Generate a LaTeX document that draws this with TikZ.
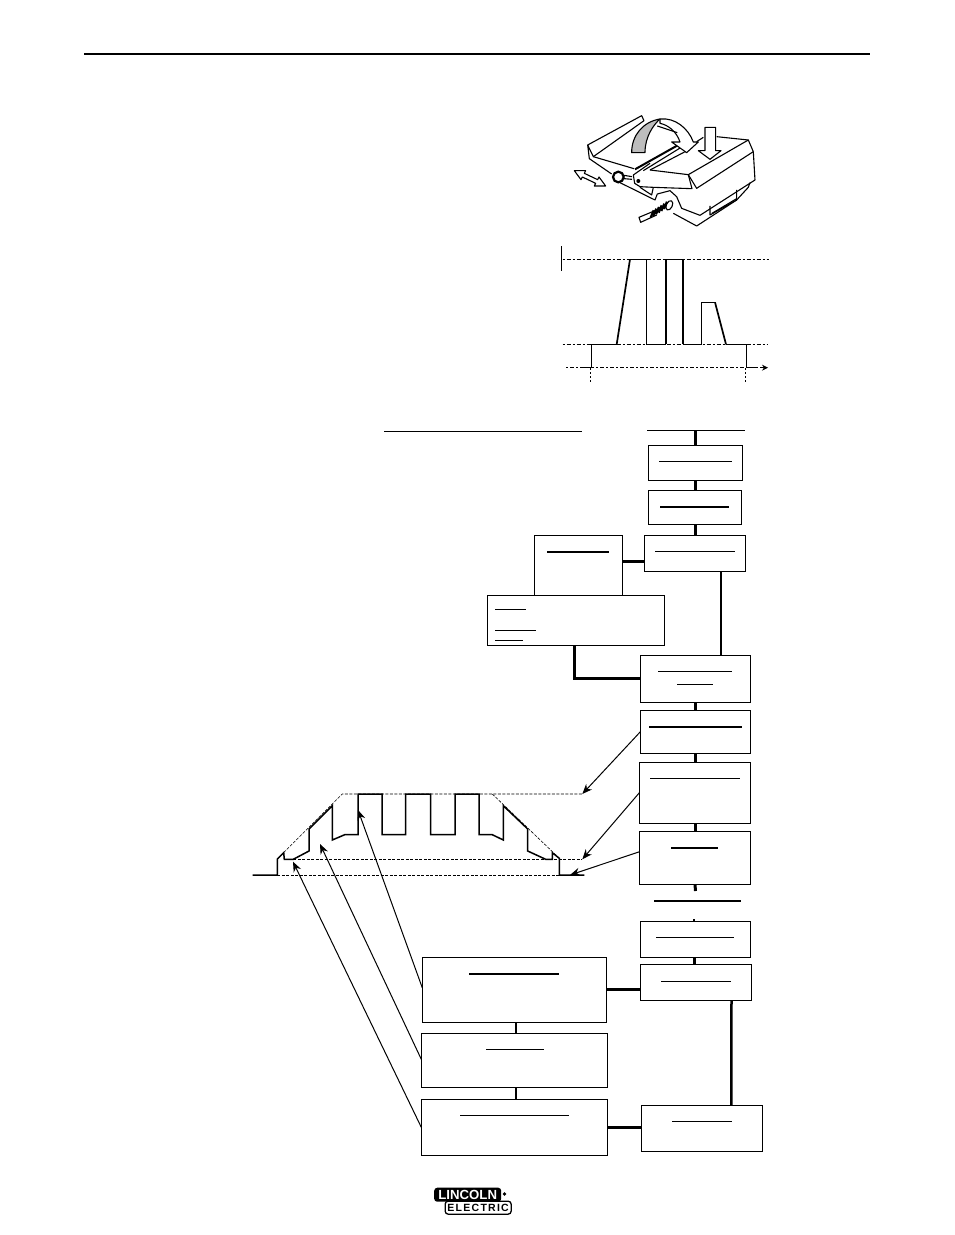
\documentclass[tikz,border=0pt]{standalone}
\usepackage{fontspec}
\setmainfont{Liberation Sans}
\usepackage{xcolor}
\usetikzlibrary{arrows.meta}
\definecolor{FlapGrey}{HTML}{BDBDBD}
\tikzset{
  flowbox/.style={draw, line width=1pt, outer sep=0pt, inner sep=0pt, anchor=north west},
  linkthin/.style={line width=2pt},
  linkthick/.style={line width=3pt},
  titlethin/.style={line width=0.9pt},
  titlethick/.style={line width=1.9pt},
  callout/.style={line width=1pt, -{Stealth[length=10pt, width=8pt]}},
  levelline/.style={line width=0.6pt, dash pattern=on 3pt off 1.5pt},
  timingline/.style={line width=0.8pt, dash pattern=on 2pt off 2pt on 4pt off 2pt},
  pulseline/.style={line width=1.5pt, line join=miter},
  sketch/.style={line width=1.1pt, line join=round}
}

\begin{document}
\begin{tikzpicture}[x=1pt, y=-1pt]
  \useasboundingbox (0,0) rectangle (954,1235);
  \draw[line width=2.4pt] (84,54) -- (870,54);

  % welder sketch, in 3x crop units
  \begin{scope}[shift={(540,100)}, x=0.3333pt, y=-0.3333pt]
    \draw[sketch] (143,135) -- (305,47) -- (312,62) -- (160,170) -- (143,135) -- (148,176) -- (215,222);
    \draw[sketch] (160,170) -- (282,206);
    \draw[sketch] (240,248) -- (345,300) -- (352,282) -- (390,272) -- (410,290) -- (425,325) -- (480,346) -- (645,240) -- (640,155);
    \draw[sketch] (400,340) -- (470,378) -- (590,300) -- (625,262) -- (630,248);
    \draw[sketch] (510,318) -- (510,345) -- (590,300) -- (590,270);
    \draw[sketch] (516,340) -- (590,296);
    % right flap
    \draw[sketch] (445,224) -- (625,120) -- (640,155) -- (470,265) -- (445,224);
    \draw[sketch] (530,110) -- (625,120);
    \draw[sketch] (470,125) -- (490,112);
    % front plate
    \draw[sketch] (330,210) -- (445,224) -- (456,266) -- (340,262) -- (300,260) -- (284,250) -- (280,225) -- (330,190);
    \draw[sketch] (340,262) -- (335,285) -- (300,262);
    \fill (295,243) circle (6);
    % rails
    \draw[line width=2pt] (285,208) -- (420,132);
    \draw[sketch] (310,212) -- (430,138);
    \draw[sketch] (330,210) -- (445,150);
    % knob
    \draw[line width=2.2pt, fill=white] (235,231) circle (16);
    \draw[sketch] (252,226) -- (276,230) (252,236) -- (276,238);
    % cord and strain relief
    \draw[sketch] (345,332) -- (297,352) -- (302,367) -- (350,345);
    \foreach \cx/\cy in {332/343, 340/338, 348/333, 356/328, 364/323, 372/317} {
      \draw[line width=2.2pt] (\cx,\cy+10) -- (\cx+9,\cy-12);
    }
    \draw[sketch, rotate around={-25:(388,316)}] (388,316) ellipse (9 and 15);
    % gate arrow
    \draw[sketch, fill=FlapGrey] (275,158) .. controls (275,105) and (310,65) .. (360,57)
      .. controls (340,75) and (315,110) .. (315,158) -- cycle;
    \draw[sketch, fill=white] (360,57) .. controls (405,52) and (445,85) .. (460,126) -- (475,126)
      -- (440,158) -- (395,126) -- (420,126) .. controls (410,95) and (385,75) .. (360,70) -- cycle;
    \draw[sketch] (352,78) -- (412,98);
    % press arrow
    \draw[sketch, fill=white] (495,82) -- (527,82) -- (527,152) -- (543,152) -- (510,178)
      -- (475,152) -- (495,152) -- cycle;
    % slide arrow
    \draw[sketch, fill=white] (103,212) -- (137,212) -- (133,220) -- (173,239) -- (177,231) -- (197,258)
      -- (163,258) -- (167,250) -- (127,231) -- (123,239) -- cycle;
  \end{scope}

  % upper timing chart
  \draw[line width=1pt] (561.3,246) -- (561.3,270.7);
  \draw[timingline] (562.7,259.3) -- (769.3,259.3);
  \draw[timingline] (562.7,344.3) -- (768,344.3);
  \coordinate (timestart) at (566,367.7);
  \coordinate (timeend) at (768,367.7);
  \draw[timingline, -{Stealth[length=6pt, width=6pt]}] (timestart) -- (timeend);
  \draw[line width=0.8pt, dash pattern=on 2pt off 2pt] (590.3,368) -- (590.3,383);
  \draw[line width=0.8pt, dash pattern=on 2pt off 2pt] (745.3,368) -- (745.3,383);
  \draw[line width=1.1pt] (580.7,367.7) -- (591.3,367.7) -- (591.3,344.3) -- (616.7,344.3);
  \draw[line width=1.7pt] (616.7,344.3) -- (630,259.3);
  \draw[line width=1.1pt] (630,259.3) -- (646.7,259.3) -- (646.7,344.3) -- (666,344.3);
  \draw[line width=1.1pt] (683.3,344.3) -- (701.3,344.3) -- (701.3,302.3) -- (715,302.3);
  \draw[line width=1.7pt] (715,302.3) -- (726,344.3);
  \draw[line width=1.1pt] (726,344.3) -- (746.7,344.3) -- (746.7,367.7) -- (756.7,367.7);
  \draw[line width=1.1pt] (666,259.3) -- (683.3,259.3);
  \draw[line width=2pt] (666,344.3) -- (666,258.8) (683.3,258.8) -- (683.3,344.3);

  % flow chart
  \node[flowbox, minimum width=94.4pt, minimum height=35pt] (preflow) at (648.3,445.3) {};
  \node[flowbox, minimum width=93.4pt, minimum height=34.3pt] (gasbox) at (648.3,490) {};
  \node[flowbox, minimum width=101.4pt, minimum height=36.4pt] (triggerbox) at (644.3,535.3) {};
  \node[flowbox, minimum width=88.4pt, minimum height=59.7pt] (sidebox) at (534.3,535.3) {};
  \node[flowbox, minimum width=177.4pt, minimum height=50.7pt] (widebox) at (487.3,595) {};
  \node[flowbox, minimum width=110.4pt, minimum height=47.4pt] (strikebox) at (640.3,655.3) {};
  \node[flowbox, minimum width=110.4pt, minimum height=43pt] (peakbox) at (640.3,710.3) {};
  \node[flowbox, minimum width=111.4pt, minimum height=61pt] (basebox) at (639.3,762.3) {};
  \node[flowbox, minimum width=111.4pt, minimum height=53pt] (startbox) at (639.3,831.3) {};
  \node[flowbox, minimum width=110.4pt, minimum height=36pt] (upperbox) at (640.3,921.3) {};
  \node[flowbox, minimum width=111.4pt, minimum height=36pt] (releasebox) at (640.3,964.3) {};
  \node[flowbox, minimum width=184.4pt, minimum height=65pt] (pulsebox) at (422.3,957.3) {};
  \node[flowbox, minimum width=186.4pt, minimum height=54pt] (slopebox) at (421.3,1033.3) {};
  \node[flowbox, minimum width=186.4pt, minimum height=56pt] (crater) at (421.3,1099.3) {};
  \node[flowbox, minimum width=121.4pt, minimum height=46pt] (postflow) at (641.3,1105.3) {};

  % heading rules
  \draw[titlethin] (384,431) -- (582,431);
  \draw[titlethin] (647,430) -- (745,430);
  \coordinate (flowtop) at (695.5,430);
  \coordinate (gapbottom) at (695.5,891);
  \coordinate (gaptop) at (694,919.3);
  \draw[titlethick] (654,901) -- (741,901);

  % titles inside the boxes
  \draw[titlethin] (659,461.3) -- (732,461.3);
  \draw[titlethick] (660,507) -- (729,507);
  \draw[titlethin] (655,551.3) -- (735,551.3);
  \draw[titlethick] (547,551.7) -- (609,551.7);
  \draw[titlethin] (495,609.3) -- (526,609.3);
  \draw[titlethin] (495,630.3) -- (536,630.3);
  \draw[titlethin] (495,640.3) -- (523,640.3);
  \draw[titlethin] (658,671.3) -- (732,671.3);
  \draw[titlethin] (677,684.3) -- (713,684.3);
  \draw[titlethick] (649,727) -- (742,727);
  \draw[titlethin] (650,778.3) -- (740,778.3);
  \draw[titlethick] (671,847.7) -- (718,847.7);
  \draw[titlethin] (656,937.3) -- (734,937.3);
  \draw[titlethin] (661,981.3) -- (731,981.3);
  \draw[titlethick] (469,974) -- (559,974);
  \draw[titlethin] (486,1049.3) -- (544,1049.3);
  \draw[titlethin] (460,1115.3) -- (569,1115.3);
  \draw[titlethin] (672,1121.3) -- (732,1121.3);

  % links
  \draw[linkthick] (flowtop) -- (preflow.north -| flowtop);
  \draw[linkthick] (preflow.south) -- (preflow.south |- gasbox.north);
  \draw[linkthick] (gasbox.south) -- (gasbox.south |- triggerbox.north);
  \draw[linkthick] (sidebox.east |- 0,561.3) -- (triggerbox.west |- 0,561.3);
  \draw[linkthin] ([xshift=25.7pt]triggerbox.south) -- ([xshift=25.2pt]strikebox.north);
  \draw[line width=2.5pt] (widebox.south -| 574.3,0) |- (strikebox.west |- 0,678.7);
  \draw[linkthick] (strikebox.south) -- (peakbox.north);
  \draw[linkthick] (peakbox.south) -- (peakbox.south |- basebox.north);
  \draw[linkthick] (basebox.south) -- (startbox.north);
  \draw[linkthick] (startbox.south) -- (gapbottom);
  \draw[line width=2pt] (gaptop) -- (upperbox.north -| gaptop);
  \draw[linkthick] (upperbox.south -| gaptop) -- (releasebox.north -| gaptop);
  \draw[line width=2.5pt] ([xshift=35.5pt]releasebox.south) -- ([xshift=29.3pt]postflow.north);
  \draw[linkthick] (pulsebox.east) -- (pulsebox.east -| releasebox.west);
  \draw[linkthin] (pulsebox.south -| 516,0) -- (slopebox.north -| 516,0);
  \draw[linkthin] (slopebox.south -| 516,0) -- (crater.north -| 516,0);
  \draw[linkthick] (crater.east) -- (crater.east -| postflow.west);

  % weld current profile
  \draw[levelline] (277.3,875) -- (559.3,875);
  \draw[line width=0.8pt, dash pattern=on 3pt off 1.5pt] (293.3,859.3) -- (582.3,859.3);
  \draw[levelline] (277.3,859) -- (342.3,794) -- (582.3,794);
  \draw[levelline] (492.3,794) -- (559.3,858.3);
  \draw[pulseline] (252.7,875) -- (277.3,875) -- (277.3,859) -- (283.7,852.7) -- (284.3,859.3) -- (293.3,859.3) -- (309,851)
    -- (309,829) -- (332.3,805.7) -- (332.3,840) -- (344.7,834.7) -- (358,834.7) -- (358,794) -- (382,794) -- (382,834.7)
    -- (405.7,834.7) -- (405.7,794) -- (430.7,794) -- (430.7,834.7) -- (455,834.7) -- (455,794) -- (479,794) -- (479,834.7)
    -- (492.3,834.7) -- (503.3,840) -- (503.3,805.7) -- (527.7,829) -- (527.7,851) -- (545.7,859.3) -- (552.3,859.3)
    -- (552.3,852.7) -- (559.3,858.3) -- (559.3,875) -- (584.3,875);

  % callouts
  \coordinate (toppoint) at (582.3,794);
  \coordinate (basepoint) at (582.3,859.3);
  \coordinate (startpoint) at (570,875);
  \coordinate (pulsepoint) at (358,810);
  \coordinate (slopepoint) at (320,844);
  \coordinate (craterpoint) at (293,861.7);
  \draw[callout] (peakbox.west) -- (toppoint);
  \draw[callout] (basebox.west) -- (basepoint);
  \draw[callout] ([yshift=6pt]startbox.west) -- (startpoint);
  \draw[callout] ([yshift=2pt]pulsebox.west) -- (pulsepoint);
  \draw[callout] ([yshift=1pt]slopebox.west) -- (slopepoint);
  \draw[callout] (crater.west) -- (craterpoint);

  % logo
  \node[draw, line width=1.3pt, rounded corners=3pt, anchor=north west, minimum width=66pt, minimum height=13pt,
    inner sep=0pt, font=\bfseries\fontsize{10.5}{10.5}\selectfont\addfontfeatures{LetterSpace=12}] (electric) at (444.5,1200.5) {ELECTRIC};
  \node[fill=black, text=white, rounded corners=3pt, anchor=north west, minimum width=67pt, minimum height=14pt,
    inner sep=0pt, font=\bfseries\fontsize{13.2}{13.2}\selectfont] (lincoln) at (434,1187.5) {LINCOLN};
  \fill[black] (504.5,1194) circle (1.8pt);
\end{tikzpicture}
\end{document}
